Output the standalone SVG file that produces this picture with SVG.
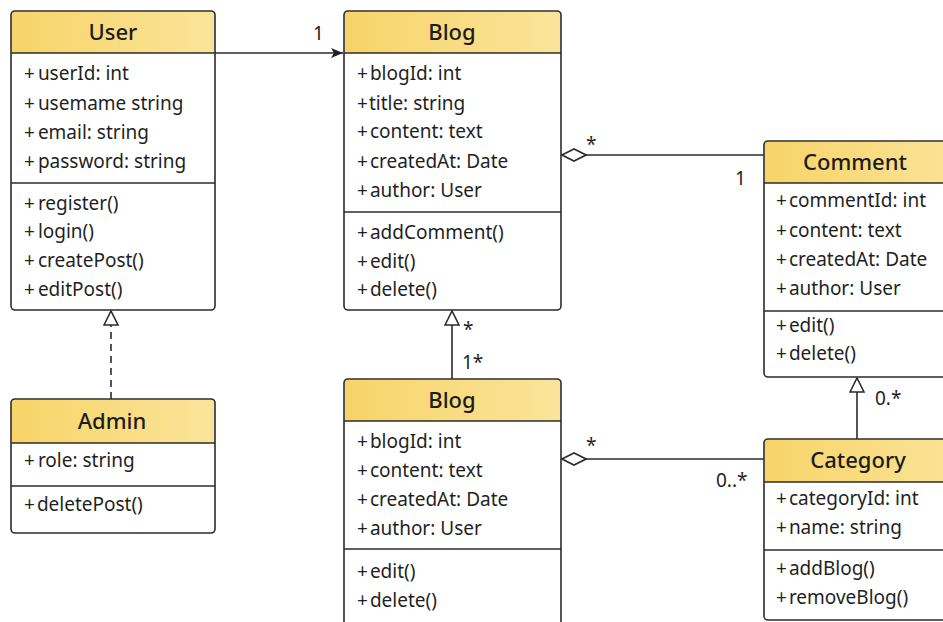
<svg xmlns="http://www.w3.org/2000/svg" width="943" height="622" viewBox="0 0 943 622">
  <style>
    .box { fill: none; stroke: #2b2b2b; stroke-width: 1.6; }
    .head { fill: url(#headFill); }
    .body { fill: #ffffff; }
    .sep { stroke: #2b2b2b; stroke-width: 1.4; }
    .title { font-family: "Noto Sans", "Open Sans", sans-serif; font-size: 22px; font-weight: 500; fill: #1c1c1c; text-anchor: middle; }
    .member { font-family: "Noto Sans", "Open Sans", sans-serif; font-size: 19px; fill: #1f1f1f; }
    .label { font-family: "Noto Sans", "Open Sans", sans-serif; font-size: 19px; fill: #1f1f1f; }
    .edge { fill: none; stroke: #2b2b2b; stroke-width: 1.6; }
    .dash { stroke-dasharray: 7 5; }
  </style>
  <defs>
    <linearGradient id="headFill" x1="0" y1="0" x2="1" y2="0">
      <stop offset="0" stop-color="#f7d468"/>
      <stop offset="1" stop-color="#fbe49a"/>
    </linearGradient>
    <marker id="arrowFilled" viewBox="0 0 12 12" refX="12" refY="6" markerWidth="12" markerHeight="12" markerUnits="userSpaceOnUse" orient="auto">
      <path d="M0,1 L12,6 L0,11 L3,6 Z" fill="#1f1f1f"/>
    </marker>
    <marker id="triHollow" viewBox="0 0 16 16" refX="15" refY="8" markerWidth="16" markerHeight="16" markerUnits="userSpaceOnUse" orient="auto">
      <path d="M1,1 L15,8 L1,15 Z" fill="#ffffff" stroke="#2b2b2b" stroke-width="1.6"/>
    </marker>
    <marker id="diamondHollow" viewBox="0 0 26 14" refX="1" refY="7" markerWidth="26" markerHeight="14" markerUnits="userSpaceOnUse" orient="auto">
      <path d="M1,7 L13,1 L25,7 L13,13 Z" fill="#ffffff" stroke="#2b2b2b" stroke-width="1.6"/>
    </marker>
  </defs>

  <rect width="943" height="622" fill="#ffffff"/>

  <!-- connectors -->
  <g id="connectors">
    <line class="edge" x1="215" y1="53" x2="343" y2="53" marker-end="url(#arrowFilled)"/>
    <text class="label" x="313" y="40">1</text>

    <line class="edge" x1="562" y1="155" x2="764" y2="155" marker-start="url(#diamondHollow)"/>
    <text class="label" x="586" y="151">*</text>
    <text class="label" x="735" y="185">1</text>

    <line class="edge dash" x1="111" y1="399" x2="111" y2="311" marker-end="url(#triHollow)"/>

    <line class="edge" x1="452" y1="379" x2="452" y2="311" marker-end="url(#triHollow)"/>
    <text class="label" x="463" y="336">*</text>
    <text class="label" x="462" y="369">1*</text>

    <line class="edge" x1="562" y1="459" x2="764" y2="459" marker-start="url(#diamondHollow)"/>
    <text class="label" x="586" y="452">*</text>
    <text class="label" x="716" y="487">0..*</text>

    <line class="edge" x1="857" y1="439" x2="857" y2="378" marker-end="url(#triHollow)"/>
    <text class="label" x="875" y="405">0.*</text>
  </g>

  <!-- User -->
  <g id="user">
    <rect class="body" x="11" y="11" width="204" height="299" rx="4"/>
    <path class="head" d="M15,11.8 H211 Q214.2,11.8 214.2,15 V53 H11.8 V15 Q11.8,11.8 15,11.8 Z"/>
    <rect class="box" x="11" y="11" width="204" height="299" rx="4"/>
    <line class="sep" x1="11" y1="53" x2="215" y2="53"/>
    <line class="sep" x1="11" y1="183" x2="215" y2="183"/>
    <text class="title" x="113" y="40">User</text>
    <text class="member" x="24" y="80">+<tspan dx="3">userId: int</tspan></text>
    <text class="member" x="24" y="110">+<tspan dx="3">usemame string</tspan></text>
    <text class="member" x="24" y="139">+<tspan dx="3">email: string</tspan></text>
    <text class="member" x="24" y="168">+<tspan dx="3">password: string</tspan></text>
    <text class="member" x="24" y="210">+<tspan dx="3">register()</tspan></text>
    <text class="member" x="24" y="238">+<tspan dx="3">login()</tspan></text>
    <text class="member" x="24" y="267">+<tspan dx="3">createPost()</tspan></text>
    <text class="member" x="24" y="296">+<tspan dx="3">editPost()</tspan></text>
  </g>

  <!-- Blog (upper) -->
  <g id="blog">
    <rect class="body" x="344" y="11" width="217" height="299" rx="4"/>
    <path class="head" d="M348,11.8 H557 Q560.2,11.8 560.2,15 V53 H344.8 V15 Q344.8,11.8 348,11.8 Z"/>
    <rect class="box" x="344" y="11" width="217" height="299" rx="4"/>
    <line class="sep" x1="344" y1="53" x2="561" y2="53"/>
    <line class="sep" x1="344" y1="212" x2="561" y2="212"/>
    <text class="title" x="452" y="40">Blog</text>
    <text class="member" x="357" y="80">+<tspan dx="2">blogId: int</tspan></text>
    <text class="member" x="357" y="110">+<tspan dx="1">title: string</tspan></text>
    <text class="member" x="357" y="138">+<tspan dx="2">content: text</tspan></text>
    <text class="member" x="357" y="168">+<tspan dx="2">createdAt: Date</tspan></text>
    <text class="member" x="357" y="197">+<tspan dx="2">author: User</tspan></text>
    <text class="member" x="357" y="239">+<tspan dx="2">addComment()</tspan></text>
    <text class="member" x="357" y="268">+<tspan dx="2">edit()</tspan></text>
    <text class="member" x="357" y="296">+<tspan dx="2">delete()</tspan></text>
  </g>

  <!-- Comment -->
  <g id="comment">
    <rect class="body" x="764" y="141" width="200" height="236" rx="4"/>
    <path class="head" d="M768,141.8 H964 V183 H764.8 V145 Q764.8,141.8 768,141.8 Z"/>
    <rect class="box" x="764" y="141" width="200" height="236" rx="4"/>
    <line class="sep" x1="764" y1="183" x2="943" y2="183"/>
    <line class="sep" x1="764" y1="311" x2="943" y2="311"/>
    <text class="title" x="855" y="170">Comment</text>
    <text class="member" x="776" y="207">+<tspan dx="2">commentId: int</tspan></text>
    <text class="member" x="776" y="237">+<tspan dx="2">content: text</tspan></text>
    <text class="member" x="776" y="266">+<tspan dx="2">createdAt: Date</tspan></text>
    <text class="member" x="776" y="295">+<tspan dx="2">author: User</tspan></text>
    <text class="member" x="776" y="332">+<tspan dx="2">edit()</tspan></text>
    <text class="member" x="776" y="360">+<tspan dx="2">delete()</tspan></text>
  </g>

  <!-- Admin -->
  <g id="admin">
    <rect class="body" x="11" y="399" width="204" height="134" rx="4"/>
    <path class="head" d="M15,399.8 H211 Q214.2,399.8 214.2,403 V443 H11.8 V403 Q11.8,399.8 15,399.8 Z"/>
    <rect class="box" x="11" y="399" width="204" height="134" rx="4"/>
    <line class="sep" x1="11" y1="443" x2="215" y2="443"/>
    <line class="sep" x1="11" y1="486" x2="215" y2="486"/>
    <text class="title" x="112" y="429">Admin</text>
    <text class="member" x="24" y="467">+<tspan dx="3">role: string</tspan></text>
    <text class="member" x="24" y="511">+<tspan dx="2">deletePost()</tspan></text>
  </g>

  <!-- Blog (lower) -->
  <g id="blog-lower">
    <rect class="body" x="344" y="379" width="217" height="260" rx="4"/>
    <path class="head" d="M348,379.8 H557 Q560.2,379.8 560.2,383 V421 H344.8 V383 Q344.8,379.8 348,379.8 Z"/>
    <rect class="box" x="344" y="379" width="217" height="260" rx="4"/>
    <line class="sep" x1="344" y1="421" x2="561" y2="421"/>
    <line class="sep" x1="344" y1="549" x2="561" y2="549"/>
    <text class="title" x="452" y="408">Blog</text>
    <text class="member" x="357" y="448">+<tspan dx="2">blogId: int</tspan></text>
    <text class="member" x="357" y="477">+<tspan dx="2">content: text</tspan></text>
    <text class="member" x="357" y="506">+<tspan dx="2">createdAt: Date</tspan></text>
    <text class="member" x="357" y="535">+<tspan dx="2">author: User</tspan></text>
    <text class="member" x="357" y="578">+<tspan dx="2">edit()</tspan></text>
    <text class="member" x="357" y="607">+<tspan dx="2">delete()</tspan></text>
  </g>

  <!-- Category -->
  <g id="category">
    <rect class="body" x="764" y="439" width="200" height="181" rx="4"/>
    <path class="head" d="M768,439.8 H964 V482 H764.8 V443 Q764.8,439.8 768,439.8 Z"/>
    <rect class="box" x="764" y="439" width="200" height="181" rx="4"/>
    <line class="sep" x1="764" y1="482" x2="943" y2="482"/>
    <line class="sep" x1="764" y1="550" x2="943" y2="550"/>
    <text class="title" x="858" y="468">Category</text>
    <text class="member" x="776" y="505">+<tspan dx="2">categoryId: int</tspan></text>
    <text class="member" x="776" y="534">+<tspan dx="2">name: string</tspan></text>
    <text class="member" x="776" y="575">+<tspan dx="2">addBlog()</tspan></text>
    <text class="member" x="776" y="604">+<tspan dx="2">removeBlog()</tspan></text>
  </g>
</svg>
